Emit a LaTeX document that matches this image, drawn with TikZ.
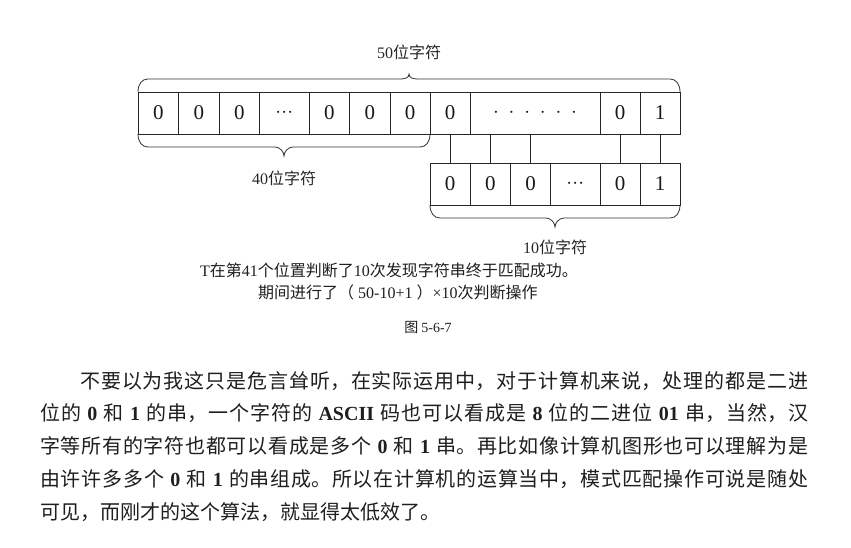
\documentclass[tikz,border=0pt]{standalone}
\usepackage{fontspec}
\setmainfont{Liberation Serif}
\newfontfamily\cjk{Noto Sans CJK SC}
\newfontfamily\lat{Liberation Serif}
\newcommand{\latb}[1]{\hspace{0.3em plus 1pt}{\lat\bfseries #1}\hspace{0.3em plus 1pt}}
\newcommand{\sdots}{\makebox[18pt][s]{$\cdot$\hfil$\cdot$\hfil$\cdot$}}
\newcommand{\wdots}{\makebox[84pt][s]{$\cdot$\hfil$\cdot$\hfil$\cdot$\hfil$\cdot$\hfil$\cdot$\hfil$\cdot$}}
% horizontal brace: x1, x2, y of ends, direction (-1 up, +1 down), tip depth
\newcommand{\hbrace}[5]{%
  \pgfmathsetmacro\brmid{(#1+#2)/2}%
  \draw[bracestyle] (#1,#3) .. controls (#1,{#3+#4*8}) and ({#1+4},{#3+#4*13}) .. ({#1+10},{#3+#4*13})
    -- ({\brmid-9},{#3+#4*13}) .. controls ({\brmid-4},{#3+#4*13}) and (\brmid,{#3+#4*(#5-4)}) .. (\brmid,{#3+#4*#5})
    .. controls (\brmid,{#3+#4*(#5-4)}) and ({\brmid+4},{#3+#4*13}) .. ({\brmid+9},{#3+#4*13})
    -- ({#2-10},{#3+#4*13}) .. controls ({#2-4},{#3+#4*13}) and (#2,{#3+#4*8}) .. (#2,#3);%
}
\tikzset{
  cell/.style={draw=black!85, line width=0.9pt, inner sep=0pt, outer sep=0pt,
    minimum height=42pt, font=\lat\fontsize{21}{21}\selectfont, text=black!90},
  bracestyle/.style={draw=black!80, line width=0.8pt},
  lbl/.style={font=\cjk\fontsize{16}{16}\selectfont, text=black!85, inner sep=0pt},
  captxt/.style={font=\cjk\fontsize{16}{16}\selectfont, text=black!88, inner sep=0pt},
  link/.style={draw=black!85, line width=0.9pt},
}
\begin{document}
\begin{tikzpicture}[x=1pt,y=-1pt]
\fill[white] (0,0) rectangle (851,548);
\useasboundingbox (0,0) rectangle (851,548);

% top row (50 characters)
\node[cell, minimum width=40.5pt] (t1) at (158.25,113) {0};
\node[cell, minimum width=40.5pt] (t2) at (198.75,113) {0};
\node[cell, minimum width=40.5pt] (t3) at (239.25,113) {0};
\node[cell, minimum width=49.5pt] (t4) at (284.25,113) {\sdots};
\node[cell, minimum width=40.5pt] (t5) at (329.25,113) {0};
\node[cell, minimum width=40.5pt] (t6) at (369.75,113) {0};
\node[cell, minimum width=40pt]   (t7) at (410,113) {0};
\node[cell, minimum width=40pt]   (t8) at (450,113) {0};
\node[cell, minimum width=130pt]  (t9) at (535,113) {\wdots};
\node[cell, minimum width=40pt]   (t10) at (620,113) {0};
\node[cell, minimum width=40pt]   (t11) at (660,113) {1};

% bottom row (10 characters)
\node[cell, minimum width=40pt]   (b1) at (450,184) {0};
\node[cell, minimum width=40.5pt] (b2) at (490.25,184) {0};
\node[cell, minimum width=40pt]   (b3) at (530.5,184) {0};
\node[cell, minimum width=49.5pt] (b4) at (575.25,184) {\sdots};
\node[cell, minimum width=40pt]   (b5) at (620,184) {0};
\node[cell, minimum width=40pt]   (b6) at (660,184) {1};

% links
\foreach \b in {b1,b2,b3,b5,b6}{
  \draw[link] (\b.north) -- (\b.north |- t1.south);
}

% braces
\hbrace{138}{680}{92}{-1}{18}
\hbrace{138}{430}{134}{1}{22}
\hbrace{430}{680}{205}{1}{22}

% brace labels
\node[lbl] (l50) at (409,52) {{\lat 50}位字符};
\node[lbl] (l40) at (284,178) {{\lat 40}位字符};
\node[lbl] (l10) at (555,247) {{\lat 10}位字符};

% caption
\node[captxt, anchor=west] (c1) at (200,270) {{\lat T}在第{\lat 41}个位置判断了{\lat 10}次发现字符串终于匹配成功。};
\node[captxt, anchor=west] (c2) at (258,292) {期间进行了（{\lat\ 50-10+1\ }）{\lat ×10}次判断操作};
\node[captxt, font=\cjk\fontsize{14}{14}\selectfont] (fig) at (428,327) {图 {\lat 5-6-7}};

% paragraph
\node[anchor=north west, inner sep=0pt, text width=768pt, align=justify,
      font=\cjk\fontsize{20}{32.75}\selectfont, text=black!88] (para) at (40,371)
{\XeTeXlinebreaklocale "zh"\XeTeXlinebreakskip=0pt plus 3pt\relax
\hspace*{2em}不要以为我这只是危言耸听，在实际运用中，对于计算机来说，处理的都是二进\linebreak
位的\latb{0}和\latb{1}的串，一个字符的\latb{ASCII}码也可以看成是\latb{8}位的二进位\latb{01}串，当然，汉\linebreak
字等所有的字符也都可以看成是多个\latb{0}和\latb{1}串。再比如像计算机图形也可以理解为是\linebreak
由许许多多个\latb{0}和\latb{1}的串组成。所以在计算机的运算当中，模式匹配操作可说是随处\linebreak
可见，而刚才的这个算法，就显得太低效了。};
\end{tikzpicture}
\end{document}
